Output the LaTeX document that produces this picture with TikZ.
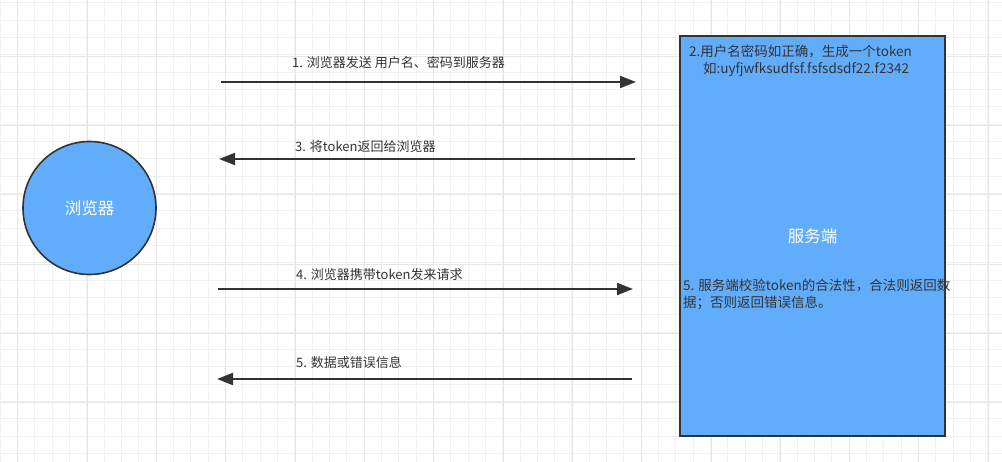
\documentclass[tikz,border=0pt]{standalone}
\usepackage{fontspec}
\setmainfont{Noto Sans CJK SC}
\usepackage{tikz}
\usetikzlibrary{arrows.meta,positioning,calc}
\definecolor{fillblue}{RGB}{98,173,251}
\definecolor{edgegray}{RGB}{51,51,51}
\definecolor{txtgray}{RGB}{51,51,51}
\definecolor{gridminor}{RGB}{241,241,241}
\definecolor{gridmajor}{RGB}{230,230,230}
\tikzset{
  % Grid paper
  minorgrid/.style={draw=gridminor, line width=0.8pt},
  majorgrid/.style={draw=gridmajor, line width=1pt},
  % Browser: blue disc, white label
  client/.style={draw=edgegray, fill=fillblue, circle, line width=1.6pt,
                 minimum size=133pt, inner sep=0pt, text=white,
                 font=\fontsize{16.5}{20}\selectfont},
  % Server: tall blue box, white label
  serverbox/.style={draw=edgegray, fill=fillblue, rectangle, line width=1.8pt,
                    minimum width=265pt, minimum height=400pt, inner sep=0pt,
                    text=white, font=\fontsize{16.5}{20}\selectfont},
  % Message label above an arrow
  msg/.style={anchor=west, inner sep=0pt, text=txtgray,
              font=\fontsize{13}{17}\selectfont},
  % Note inside the server box
  note/.style={anchor=north west, inner sep=0pt, align=left, text=txtgray,
               font=\fontsize{13.5}{17}\selectfont},
  % Arrows
  flowarr/.style={-{Triangle[length=16pt,width=12pt]}, draw=edgegray,
                  line width=2pt}
}
\begin{document}
\begin{tikzpicture}[x=1pt,y=-1pt]

% ============== Paper and grid ==============
\useasboundingbox (0,0) rectangle (1002,462);
\fill[white] (0,0) rectangle (1002,462);
\foreach \k in {0,...,57} {
  \draw[minorgrid] ({\k*17.33},0) -- ({\k*17.33},462);
}
\foreach \k in {0,...,26} {
  \draw[minorgrid] (0,{2.7+\k*17.33}) -- (1002,{2.7+\k*17.33});
}
\foreach \k in {0,...,14} {
  \draw[majorgrid] ({17.7+\k*69.33},0) -- ({17.7+\k*69.33},462);
}
\foreach \k in {1,...,6} {
  \draw[majorgrid] (0,{-13.3+\k*69.33}) -- (1002,{-13.3+\k*69.33});
}

% ============== Browser and server ==============
\node[client] (browser) at (89.5,208) {浏览器};
\node[serverbox] (server) at (812.5,236) {服务端};

% ============== Arrow ends ==============
\coordinate (b1) at (221,82);  \coordinate (s1) at (636,82);
\coordinate (b3) at (219,159); \coordinate (s3) at (635,159);
\coordinate (b4) at (218,289); \coordinate (s4) at (633,289);
\coordinate (b5) at (217,379); \coordinate (s5) at (632,379);

% ============== Messages ==============
\draw[flowarr] (b1) -- (s1);
\node[msg] (m1) at (292,62.5) {1. 浏览器发送 用户名、密码到服务器};

\draw[flowarr] (s3) -- (b3);
\node[msg] (m3) at (295,147) {3. 将token返回给浏览器};

\draw[flowarr] (b4) -- (s4);
\node[msg] (m4) at (296,275) {4. 浏览器携带token发来请求};

\draw[flowarr] (s5) -- (b5);
\node[msg] (m5) at (296,363) {5. 数据或错误信息};

% ============== Notes inside the server ==============
\node[note] (n2) at (689,45)
  {2.用户名密码如正确，生成一个token\\\hspace*{14pt}如:uyfjwfksudfsf.fsfsdsdf22.f2342};
\node[note] (n5) at (683,279)
  {5. 服务端校验token的合法性，合法则返回数\\据；否则返回错误信息。};

\end{tikzpicture}
\end{document}
